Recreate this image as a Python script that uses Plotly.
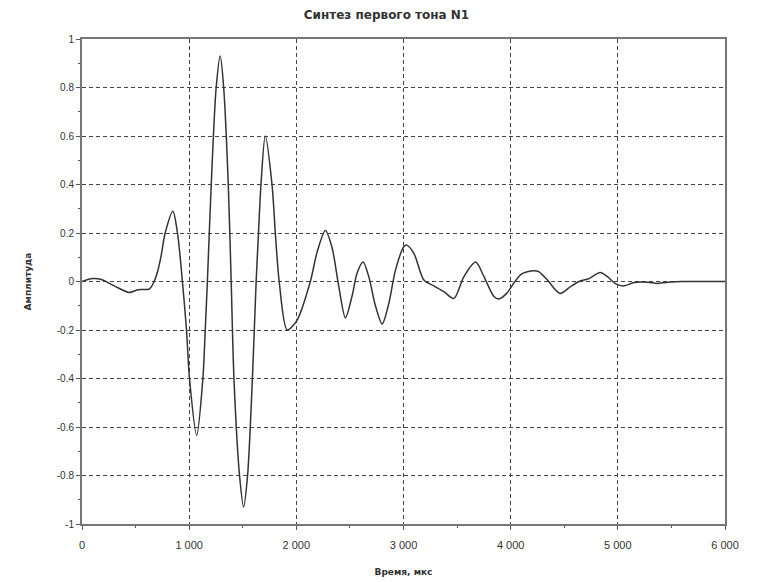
import plotly.graph_objects as go

time_us = [0, 100, 180, 300, 440, 520, 630, 673, 705, 740, 776, 848, 891, 937,
           975, 1003, 1070, 1128, 1150, 1170, 1206, 1252, 1290, 1322, 1365, 1392,
           1418, 1470, 1508, 1545, 1590, 1625, 1647, 1670, 1710, 1773, 1804, 1840,
           1915, 2006, 2131, 2193, 2271, 2333, 2396, 2458, 2520, 2567, 2623, 2676,
           2738, 2801, 2863, 2925, 3003, 3030, 3097, 3190, 3283, 3377, 3470, 3564,
           3673, 3751, 3844, 3891, 3960, 4040, 4100, 4156, 4218, 4265, 4343, 4461,
           4561, 4638, 4732, 4835, 4903, 4981, 5059, 5153, 5277, 5371, 5495, 5600,
           6000]
amplitude = [0.0, 0.012, 0.008, -0.018, -0.045, -0.034, -0.03, 0.0, 0.04, 0.11,
             0.2, 0.29, 0.2, 0.0, -0.2, -0.4, -0.635, -0.4, -0.2, 0.0, 0.4, 0.8,
             0.93, 0.8, 0.4, 0.0, -0.4, -0.8, -0.93, -0.8, -0.4, 0.0, 0.2, 0.4,
             0.6, 0.4, 0.2, 0.0, -0.2, -0.16, 0.0, 0.12, 0.21, 0.14, -0.02, -0.15,
             -0.06, 0.035, 0.08, 0.02, -0.1, -0.175, -0.09, 0.047, 0.143, 0.15,
             0.116, 0.006, -0.018, -0.042, -0.07, 0.02, 0.08, 0.02, -0.062,
             -0.072, -0.05, 0.0, 0.03, 0.04, 0.044, 0.04, 0.006, -0.049, -0.02,
             0.0, 0.012, 0.037, 0.02, -0.01, -0.018, -0.004, -0.003, -0.008,
             -0.002, 0.0, 0.0]

x_tick_vals = [0, 1000, 2000, 3000, 4000, 5000, 6000]
x_tick_text = ['0', '1 000', '2 000', '3 000', '4 000', '5 000', '6 000']
y_tick_vals = [-1, -0.8, -0.6, -0.4, -0.2, 0, 0.2, 0.4, 0.6, 0.8, 1]
y_tick_text = ['-1', '-0.8', '-0.6', '-0.4', '-0.2', '0', '0.2', '0.4', '0.6', '0.8', '1']

fig = go.Figure()
fig.add_trace(go.Scatter(
    x=time_us,
    y=amplitude,
    mode='lines',
    line=dict(color='#333333', width=1.5, shape='spline', smoothing=0.8),
    showlegend=False
))

axis_common = dict(
    showline=True,
    mirror=True,
    linecolor='#777777',
    linewidth=2,
    showgrid=True,
    gridcolor='#444444',
    gridwidth=1,
    griddash='4px,3px',
    zeroline=False,
    ticks='outside',
    ticklen=4,
    tickcolor='#555555',
)

fig.update_layout(
    title=dict(text='<b>Синтез первого тона N1</b>', x=0.5, xanchor='center',
               y=0.996, yanchor='top', pad=dict(t=0, b=0),
               font=dict(family='DejaVu Sans', size=12, color='#333333')),
    width=757,
    height=582,
    margin=dict(l=74, r=40, t=31, b=66),
    plot_bgcolor='white',
    paper_bgcolor='white',
    xaxis=dict(
        range=[0, 6000],
        tickvals=x_tick_vals,
        ticktext=x_tick_text,
        ticklabelstandoff=6,
        tickfont=dict(family='Liberation Sans, Arial', size=11, color='#333333'),
        minor=dict(dtick=500, ticks='outside', ticklen=2, tickcolor='#555555', showgrid=False),
        title=dict(text='<b>Время, мкс</b>', standoff=18,
                   font=dict(family='DejaVu Sans', size=9, color='#333333')),
        **axis_common
    ),
    yaxis=dict(
        range=[-1, 1],
        tickvals=y_tick_vals,
        ticktext=y_tick_text,
        tickfont=dict(family='Liberation Sans, Arial', size=10, color='#333333'),
        minor=dict(dtick=0.1, ticks='outside', ticklen=2, tickcolor='#555555', showgrid=False),
        title=dict(text='<b>Амплитуда</b>', standoff=24,
                   font=dict(family='DejaVu Sans', size=9, color='#333333')),
        **axis_common
    ),
)

fig.write_html('out.html')
